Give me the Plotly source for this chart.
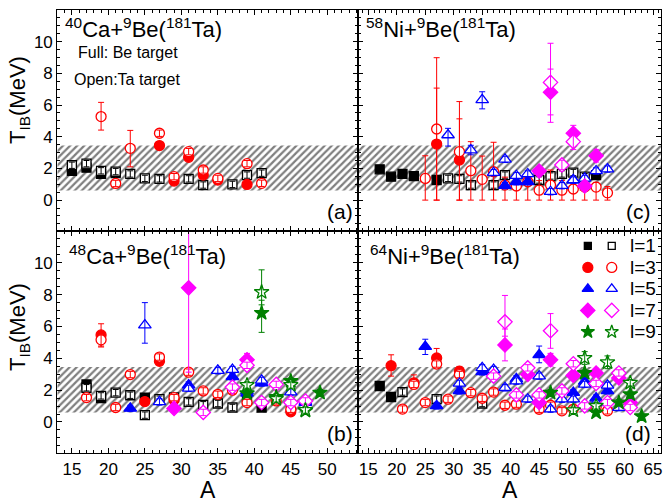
import plotly.graph_objects as go

# ---------------- data ----------------
A_TICKS_LEFT = [15, 20, 25, 30, 35, 40, 45, 50]
A_TICKS_RIGHT = [15, 20, 25, 30, 35, 40, 45, 50, 55, 60, 65]
T_TICKS = [0, 2, 4, 6, 8, 10]
BAND_LOW, BAND_HIGH = 0.6, 3.45
DEF_ERR = 0.2
l_values = [1, 3, 5, 7, 9]
legend_labels = ["l=1", "l=3", "l=5", "l=7", "l=9"]
panel_titles = ["<sup>40</sup>Ca+<sup>9</sup>Be(<sup>181</sup>Ta)",
                "<sup>58</sup>Ni+<sup>9</sup>Be(<sup>181</sup>Ta)",
                "<sup>48</sup>Ca+<sup>9</sup>Be(<sup>181</sup>Ta)",
                "<sup>64</sup>Ni+<sup>9</sup>Be(<sup>181</sup>Ta)"]
panel_tags = ["(a)", "(c)", "(b)", "(d)"]

# (A, T) or (A, T, err_plus, err_minus)
# ---- 40Ca (a)
ca40_l1_full = [(15, 1.85), (17, 2.05), (19, 1.65), (21, 1.7)]
ca40_l1_open = [(15, 2.2), (17, 2.3), (19, 1.85), (21, 1.8), (23, 1.65), (25, 1.37), (27, 1.34),
                (31, 1.34), (33, 0.95), (37, 0.99), (39, 1.58), (41, 1.7)]
ca40_l3_full = [(27, 3.44), (29, 1.2), (31, 2.7), (33, 1.58), (35, 1.27), (39, 0.99)]
ca40_l3_open = [(19, 5.27, 0.9, 0.85), (21, 1.05), (23, 3.27, 1.13, 1.17), (27, 4.22), (29, 1.48),
                (31, 3.06), (33, 1.9), (35, 1.37), (39, 2.3), (41, 1.06)]
# ---- 58Ni (c)
ni58_l1_full = [(17, 1.94), (19, 1.48), (21, 1.65), (23, 1.52), (27, 1.27), (55, 1.58)]
ni58_l1_open = [(29, 1.37), (31, 1.34), (33, 0.95), (37, 0.95), (39, 1.58), (45, 1.27), (47, 1.52),
                (49, 1.65), (51, 1.74), (53, 1.48)]
ni58_l3_full = [(27, 3.54, 3.53, 3.54), (31, 2.53, 2.6, 2.53)]
ni58_l3_open = [(25, 1.37, 1.43, 1.37), (27, 4.49, 4.5, 4.49), (31, 3.06, 3.16, 3.06), (33, 1.86, 1.83, 1.86),
                (35, 1.31, 1.47, 1.31), (37, 1.79, 1.86, 1.79), (39, 0.95, 0.5, 0.95), (41, 0.89, 0.5, 0.89),
                (43, 1.16, 0.5, 1.16), (45, 0.63, 0.6, 0.63), (47, 0.95, 0.95, 0.95), (49, 0.63, 0.6, 0.63),
                (51, 0.7, 0.4, 0.7), (53, 0.82, 0.4, 0.82), (55, 0.82, 0.3, 0.82), (57, 0.46, 0.4, 0.46)]
ni58_l5_full = [(39, 0.91), (41, 1.16), (43, 1.16), (51, 1.27)]
ni58_l5_open = [(29, 4.11, 0.42, 0.7), (33, 3.16, 0.3, 0.3), (35, 6.33, 0.51, 0.57), (37, 1.73), (39, 2.57),
                (41, 1.54), (43, 1.65), (47, 0.53), (49, 0.91), (51, 1.27), (53, 1.37), (55, 1.84), (57, 1.96)]
ni58_l7_full = [(45, 1.84), (47, 6.81, 1.46, 1.43), (51, 4.22, 0.5, 0.5), (53, 0.89), (55, 2.8, 0.4, 0.4)]
ni58_l7_open = [(47, 7.43, 2.47, 2.52), (49, 2.22, 0.3, 0.3), (51, 3.69, 0.5, 0.5)]
# ---- 48Ca (b)
ca48_l1_full = [(17, 2.36), (19, 1.5), (25, 1.53), (39, 1.43), (41, 0.91)]
ca48_l1_open = [(17, 2.15), (19, 1.64), (21, 1.84), (23, 1.68), (25, 0.43), (27, 1.43), (29, 1.55),
                (31, 1.26), (33, 1.08), (35, 1.16), (37, 0.91)]
ca48_l3_full = [(19, 5.47, 0.7, 0.7), (25, 1.28), (27, 3.81), (29, 1.4), (45, 0.64)]
ca48_l3_open = [(17, 1.53), (19, 5.16, 0.5, 0.45), (21, 0.91), (23, 2.98), (27, 4.08), (29, 1.53),
                (31, 3.13), (33, 1.95), (35, 1.74), (37, 2.0), (39, 1.22), (43, 1.32), (45, 0.8)]
ca48_l5_full = [(23, 0.85), (31, 2.32), (35, 3.23), (37, 2.84), (39, 1.8), (41, 2.45), (47, 1.22)]
ca48_l5_open = [(25, 6.09, 1.41, 1.14), (27, 1.26), (31, 2.11), (35, 3.23), (37, 3.29), (39, 1.95),
                (41, 2.61), (45, 1.88), (47, 1.28)]
ca48_l7_full = [(29, 0.85), (31, 8.43, 4.5, 5.3), (39, 3.91, 0.4, 0.4)]
ca48_l7_open = [(33, 0.6), (37, 2.19), (39, 3.56), (41, 1.22), (43, 2.36), (45, 1.22), (47, 1.32)]
ca48_l9_full = [(39, 1.8), (41, 6.85, 0.8, 1.22), (43, 1.57), (45, 2.57), (47, 0.7), (49, 1.84)]
ca48_l9_open = [(39, 2.32), (41, 8.16, 1.4, 0.8), (43, 1.45), (45, 2.32), (47, 0.75)]
# ---- 64Ni (d)
ni64_l1_full = [(17, 2.26), (19, 1.57)]
ni64_l1_open = [(21, 1.88), (27, 1.43), (35, 1.16)]
ni64_l3_full = [(19, 3.54, 0.68, 0.66), (23, 2.46, 0.5, 0.3), (27, 4.02, 0.6, 0.3), (31, 3.19, 0.3, 0.3)]
ni64_l3_open = [(21, 0.81), (23, 2.36), (25, 1.22), (27, 3.64), (29, 1.43), (31, 2.98), (33, 1.84),
                (35, 1.49), (37, 1.88), (39, 1.05), (41, 1.12), (45, 0.8), (47, 1.05), (49, 0.7),
                (51, 0.81), (55, 0.91), (57, 0.7)]
ni64_l5_full = [(25, 4.74, 0.46, 0.5), (27, 1.01), (31, 1.95), (35, 3.15), (41, 2.71), (45, 4.22, 0.55, 0.5),
                (51, 1.84), (53, 2.55), (55, 1.5), (57, 1.95)]
ni64_l5_open = [(31, 2.42), (35, 3.4), (37, 3.29), (39, 2.15), (41, 2.57), (43, 1.43), (45, 2.88),
                (47, 0.81), (49, 1.43), (51, 1.43), (53, 2.36), (55, 1.2), (57, 2.3), (59, 0.9)]
ni64_l7_full = [(39, 4.84, 1.0, 1.0), (43, 2.98), (45, 1.22), (47, 3.91, 0.4, 0.4), (51, 2.92), (55, 3.08),
                (59, 2.77), (61, 1.22)]
ni64_l7_open = [(37, 2.88), (39, 6.29, 1.66, 0.9), (41, 1.7), (43, 3.4), (45, 1.7), (47, 5.73, 1.08, 1.1),
                (49, 1.95), (51, 3.66), (53, 1.01), (55, 2.42), (57, 1.22), (59, 3.08), (61, 0.91)]
ni64_l9_full = [(47, 1.84), (53, 3.08), (55, 0.6), (59, 1.22), (61, 1.74), (63, 0.36)]
ni64_l9_open = [(51, 0.73), (53, 4.02, 0.4, 0.4), (55, 1.01), (57, 3.75, 0.4, 0.4), (61, 2.46)]

# ---------------- layout constants ----------------
W, H = 664, 502
XR_LEFT = [13.0, 54.25]
XR_RIGHT = [13.24, 66.4]
YR = [-1.95, 12.0]
XD_LEFT = [57.3 / W, 358.3 / W]
XD_RIGHT = [358.3 / W, 661.0 / W]
YD_TOP = [(H - 231.0) / H, (H - 10.0) / H]
YD_BOT = [(H - 453.0) / H, (H - 231.0) / H]
FONT = "Liberation Sans, Arial, sans-serif"

styles = {1: ("#000000", "square", 9), 3: ("#FF0000", "circle", 10), 5: ("#0000FF", "triangle-up", 11),
          7: ("#FF00FF", "diamond", 11), 9: ("#008000", "star", 11)}
legend_sizes = {1: 7, 3: 10, 5: 10, 7: 11, 9: 10}

panels = [
    dict(ax="", xr=XR_LEFT, series={1: (ca40_l1_full, ca40_l1_open), 3: (ca40_l3_full, ca40_l3_open)}),
    dict(ax="2", xr=XR_RIGHT, series={1: (ni58_l1_full, ni58_l1_open), 3: (ni58_l3_full, ni58_l3_open),
                                      5: (ni58_l5_full, ni58_l5_open), 7: (ni58_l7_full, ni58_l7_open)}),
    dict(ax="3", xr=XR_LEFT, series={1: (ca48_l1_full, ca48_l1_open), 3: (ca48_l3_full, ca48_l3_open),
                                     5: (ca48_l5_full, ca48_l5_open), 7: (ca48_l7_full, ca48_l7_open),
                                     9: (ca48_l9_full, ca48_l9_open)}),
    dict(ax="4", xr=XR_RIGHT, series={1: (ni64_l1_full, ni64_l1_open), 3: (ni64_l3_full, ni64_l3_open),
                                      5: (ni64_l5_full, ni64_l5_open), 7: (ni64_l7_full, ni64_l7_open),
                                      9: (ni64_l9_full, ni64_l9_open)}),
]


def unpack(pts):
    xs = [p[0] for p in pts]
    ys = [p[1] for p in pts]
    ep = [p[2] if len(p) > 2 else DEF_ERR for p in pts]
    em = [p[3] if len(p) > 3 else (p[2] if len(p) > 2 else DEF_ERR) for p in pts]
    return xs, ys, ep, em


fig = go.Figure()

for pn in panels:
    xa, ya = "x" + pn["ax"], "y" + pn["ax"]
    x0, x1 = pn["xr"]
    # hatched band
    fig.add_trace(go.Scatter(x=[x0, x1, x1, x0, x0], y=[BAND_LOW, BAND_LOW, BAND_HIGH, BAND_HIGH, BAND_LOW],
                             xaxis=xa, yaxis=ya, mode="lines", fill="toself",
                             line=dict(width=0, color="rgba(0,0,0,0)"),
                             fillcolor="rgba(0,0,0,0)",
                             fillpattern=dict(shape="/", fgcolor="black", bgcolor="rgba(0,0,0,0)",
                                              size=5, solidity=0.45),
                             hoverinfo="skip", showlegend=False))
    for l in l_values:
        if l not in pn["series"]:
            continue
        col, sym, sz = styles[l]
        full, opn = pn["series"][l]
        for pts, filled in ((full, True), (opn, False)):
            xs, ys, ep, em = unpack(pts)
            err = dict(type="data", symmetric=False, array=ep, arrayminus=em, color=col, thickness=1, width=3)
            fig.add_trace(go.Scatter(
                x=xs, y=ys, xaxis=xa, yaxis=ya, mode="markers", showlegend=False,
                marker=dict(symbol=sym, size=sz, color=col if filled else "white",
                            line=dict(color=col, width=1.3))))
            # error bars drawn over the symbols (as in the original)
            fig.add_trace(go.Scatter(
                x=xs, y=ys, xaxis=xa, yaxis=ya, mode="markers", showlegend=False, hoverinfo="skip",
                marker=dict(symbol=sym, size=sz, color="rgba(0,0,0,0)", opacity=0),
                error_y=err))

# legend (inside panel d)
LEG_X_FULL, LEG_X_OPEN, LEG_X_TEXT = 53.55, 57.75, 60.6
LEG_Y_TOP, LEG_DY = 11.06, 1.35
annotations = []
for i, l in enumerate(l_values):
    col, sym, _ = styles[l]
    sz = legend_sizes[l]
    yy = LEG_Y_TOP - i * LEG_DY
    fig.add_trace(go.Scatter(x=[LEG_X_FULL], y=[yy], xaxis="x4", yaxis="y4", mode="markers", showlegend=False,
                             marker=dict(symbol=sym, size=sz, color=col, line=dict(color=col, width=1.3))))
    fig.add_trace(go.Scatter(x=[LEG_X_OPEN], y=[yy], xaxis="x4", yaxis="y4", mode="markers", showlegend=False,
                             marker=dict(symbol=sym, size=sz, color="white", line=dict(color=col, width=1.3))))
    annotations.append(dict(x=LEG_X_TEXT, y=yy, xref="x4", yref="y4", text=legend_labels[i], showarrow=False,
                            xanchor="left", yanchor="middle", font=dict(size=19, color="black", family=FONT)))


# axes
def xaxis(domain, rng, anchor, ticks_vals, show_labels):
    return dict(domain=domain, range=rng, anchor=anchor, showline=True, linecolor="black", linewidth=1.2,
                mirror="allticks", ticks="inside", ticklen=5, tickwidth=1, tickcolor="black",
                tickvals=ticks_vals, showticklabels=show_labels, showgrid=False, zeroline=False,
                tickfont=dict(size=17, family=FONT, color="black"),
                minor=dict(ticks="inside", ticklen=3, dtick=1, tick0=0, tickcolor="black", showgrid=False))


def yaxis(domain, anchor, show_labels):
    return dict(domain=domain, range=YR, anchor=anchor, showline=True, linecolor="black", linewidth=1.2,
                mirror="allticks", ticks="inside", ticklen=5, tickwidth=1, tickcolor="black",
                tickvals=T_TICKS, showticklabels=show_labels, showgrid=False, zeroline=False,
                tickfont=dict(size=17, family=FONT, color="black"),
                minor=dict(ticks="inside", ticklen=3, dtick=0.5, tick0=0, tickcolor="black", showgrid=False))


fig.update_layout(
    width=W, height=H, margin=dict(l=0, r=0, t=0, b=0),
    plot_bgcolor="white", paper_bgcolor="white", showlegend=False,
    font=dict(family=FONT, color="black"),
    xaxis=xaxis(XD_LEFT, XR_LEFT, "y", A_TICKS_LEFT, False),
    yaxis=yaxis(YD_TOP, "x", True),
    xaxis2=xaxis(XD_RIGHT, XR_RIGHT, "y2", A_TICKS_RIGHT, False),
    yaxis2=yaxis(YD_TOP, "x2", False),
    xaxis3=xaxis(XD_LEFT, XR_LEFT, "y3", A_TICKS_LEFT, True),
    yaxis3=yaxis(YD_BOT, "x3", True),
    xaxis4=xaxis(XD_RIGHT, XR_RIGHT, "y4", A_TICKS_RIGHT, True),
    yaxis4=yaxis(YD_BOT, "x4", False),
)

title_pos = [(0.019, 0.918), (0.019, 0.918), (0.032, 0.892), (0.032, 0.892)]
tag_x = [0.989, 0.974, 0.989, 0.974]
for i, pn in enumerate(panels):
    xr_, yr_ = "x" + pn["ax"] + " domain", "y" + pn["ax"] + " domain"
    annotations.append(dict(x=title_pos[i][0], y=title_pos[i][1], xref=xr_, yref=yr_, text=panel_titles[i],
                            showarrow=False, xanchor="left", yanchor="middle",
                            font=dict(size=22, family=FONT, color="black")))
    annotations.append(dict(x=tag_x[i], y=0.088, xref=xr_, yref=yr_, text=panel_tags[i], showarrow=False,
                            xanchor="right", yanchor="middle", font=dict(size=21, family=FONT, color="black")))

annotations.append(dict(x=76 / W, y=1 - 52 / H, xref="paper", yref="paper", text="Full: Be target", showarrow=False,
                        xanchor="left", yanchor="middle", font=dict(size=16, family=FONT, color="black")))
annotations.append(dict(x=72 / W, y=1 - 80 / H, xref="paper", yref="paper", text="Open:Ta target", showarrow=False,
                        xanchor="left", yanchor="middle", font=dict(size=16, family=FONT, color="black")))
for yc in (100, 327):
    annotations.append(dict(x=19 / W, y=1 - yc / H, xref="paper", yref="paper", text="T<sub>IB</sub>(MeV)",
                            showarrow=False, textangle=-90, xanchor="center", yanchor="middle",
                            font=dict(size=22, family=FONT, color="black")))
for xc in ((XD_LEFT[0] + XD_LEFT[1]) / 2, (XD_RIGHT[0] + XD_RIGHT[1]) / 2):
    annotations.append(dict(x=xc, y=1 - 490 / H, xref="paper", yref="paper", text="A", showarrow=False,
                            xanchor="center", yanchor="middle", font=dict(size=23, family=FONT, color="black")))

fig.update_layout(annotations=annotations)
fig.write_html("out.html")
